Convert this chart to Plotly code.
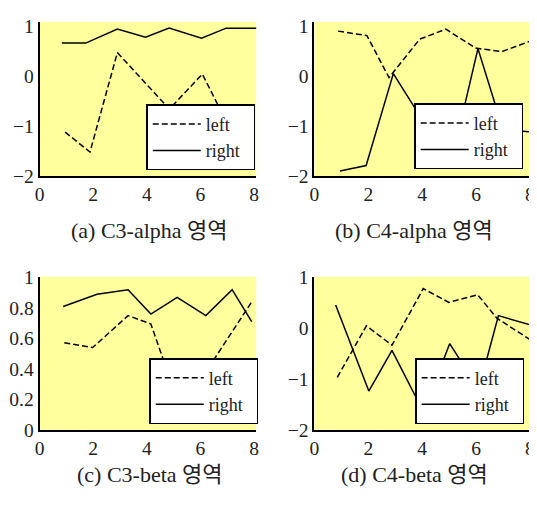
import plotly.graph_objects as go

# ---- data ----
a_left_x = [0.95, 1.88, 2.9, 4.84, 6.07, 7.0, 7.9]
a_left_y = [-1.12, -1.52, 0.47, -0.66, 0.04, -0.95, -1.4]
a_right_x = [0.83, 1.72, 2.9, 3.95, 4.83, 6.04, 6.96, 8.1]
a_right_y = [0.66, 0.66, 0.94, 0.78, 0.96, 0.76, 0.96, 0.96]

b_left_x = [0.88, 1.95, 2.77, 3.91, 4.88, 5.98, 6.96, 8.06]
b_left_y = [0.90, 0.81, -0.03, 0.74, 0.94, 0.56, 0.49, 0.71]
b_right_x = [0.95, 1.92, 2.93, 4.0, 5.2, 6.07, 7.0, 8.06]
b_right_y = [-1.90, -1.79, 0.05, -0.87, -1.45, 0.55, -1.07, -1.12]

c_left_x = [0.92, 1.98, 3.30, 4.15, 5.13, 6.20, 7.91]
c_left_y = [0.571, 0.54, 0.75, 0.695, 0.20, 0.38, 0.84]
c_right_x = [0.88, 2.14, 3.30, 4.15, 5.13, 6.20, 7.18, 7.91]
c_right_y = [0.81, 0.89, 0.92, 0.76, 0.87, 0.75, 0.92, 0.71]

d_left_x = [0.85, 1.93, 2.88, 4.04, 4.99, 6.06, 6.77, 8.06]
d_left_y = [-0.97, 0.04, -0.34, 0.77, 0.50, 0.65, 0.19, -0.25]
d_right_x = [0.79, 2.02, 2.88, 4.05, 5.02, 6.1, 6.83, 8.06]
d_right_y = [0.45, -1.24, -0.44, -1.65, -0.31, -1.2, 0.24, 0.05]

series_names = ["left", "right"]
captions = ["(a) C3-alpha 영역", "(b) C4-alpha 영역", "(c) C3-beta 영역", "(d) C4-beta 영역"]
x_ticks = [0, 2, 4, 6, 8]
y_ticks_ab = [-2, -1, 0, 1]
y_tick_text_ab = ["\u22122", "\u22121", "0", "1"]
y_ticks_c = [0, 0.2, 0.4, 0.6, 0.8, 1]
y_tick_text_c = ["0", "0.2", "0.4", "0.6", "0.8", "1"]

# page body has an 8px margin; figure occupies 8..537 x 8..505
OFF = 8
W, H = 537 - OFF, 505 - OFF
FONT = "Liberation Serif, Times New Roman, Noto Sans CJK KR, serif"
YEL = "#FFFF9E"
TXT = "#222"


def fx(px):
    return (px - OFF) / W


def fy(py):
    return 1 - (py - OFF) / H


panels = [
    dict(lx=a_left_x, ly=a_left_y, rx=a_right_x, ry=a_right_y,
         box=(35, 255, 12, 173), xr=[0, 8.08], yr=[-2, 1.086],
         yt=y_ticks_ab, ytt=y_tick_text_ab, cap=(147, 230), leg=(254, 167)),
    dict(lx=b_left_x, ly=b_left_y, rx=b_right_x, ry=b_right_y,
         box=(314, 537, 12, 173), xr=[0, 8.15], yr=[-2, 1.086],
         yt=y_ticks_ab, ytt=y_tick_text_ab, cap=(415, 230), leg=(526, 166)),
    dict(lx=c_left_x, ly=c_left_y, rx=c_right_x, ry=c_right_y,
         box=(35, 255, 278, 438), xr=[0, 8.08], yr=[0, 1.006],
         yt=y_ticks_c, ytt=y_tick_text_c, cap=(147, 485), leg=(257, 432)),
    dict(lx=d_left_x, ly=d_left_y, rx=d_right_x, ry=d_right_y,
         box=(314, 537, 278, 438), xr=[0, 8.15], yr=[-2, 1.006],
         yt=y_ticks_ab, ytt=y_tick_text_ab, cap=(416, 485), leg=(527, 432)),
]

fig = go.Figure()
layout = dict(width=W, height=H, margin=dict(l=0, r=0, t=0, b=0),
              paper_bgcolor="white", plot_bgcolor=YEL, showlegend=True,
              font=dict(family=FONT, size=19.5, color=TXT))
annotations = []
for i, p in enumerate(panels):
    n = "" if i == 0 else str(i + 1)
    xa, ya = "x" + n, "y" + n
    leg = "legend" + n
    fig.add_trace(go.Scatter(x=p["lx"], y=p["ly"], mode="lines", name=series_names[0],
                             line=dict(color="black", width=1.5, dash="6px,3px"),
                             xaxis=xa, yaxis=ya, legend=leg))
    fig.add_trace(go.Scatter(x=p["rx"], y=p["ry"], mode="lines", name=series_names[1] + "\u00a0\u00a0",
                             line=dict(color="black", width=1.5),
                             xaxis=xa, yaxis=ya, legend=leg))
    l, r, t, b = p["box"]
    layout["xaxis" + n] = dict(domain=[fx(l), min(fx(r), 1)], range=p["xr"], anchor=ya,
                               tickvals=x_ticks, showgrid=False, zeroline=False,
                               showline=True, linecolor="black", linewidth=2,
                               ticks="", tickfont=dict(size=19.5, family=FONT, color=TXT))
    layout["yaxis" + n] = dict(domain=[fy(b), fy(t)], range=p["yr"], anchor=xa,
                               tickvals=p["yt"], ticktext=p["ytt"], showgrid=False,
                               zeroline=False, showline=True, linecolor="black",
                               linewidth=2, ticks="", tickfont=dict(size=19.5, family=FONT, color=TXT))
    layout[leg] = dict(x=fx(p["leg"][0]), xanchor="right",
                       y=fy(p["leg"][1]), yanchor="bottom",
                       bgcolor="white", bordercolor="black", borderwidth=1.5,
                       font=dict(size=18, family=FONT, color=TXT),
                       itemwidth=48, tracegroupgap=0)
    annotations.append(dict(x=fx(p["cap"][0]), y=fy(p["cap"][1]), xref="paper", yref="paper",
                            text=captions[i], showarrow=False, xanchor="center", yanchor="middle",
                            font=dict(size=22, family=FONT, color=TXT)))
layout["annotations"] = annotations
fig.update_layout(**layout)
fig.write_html("out.html")
